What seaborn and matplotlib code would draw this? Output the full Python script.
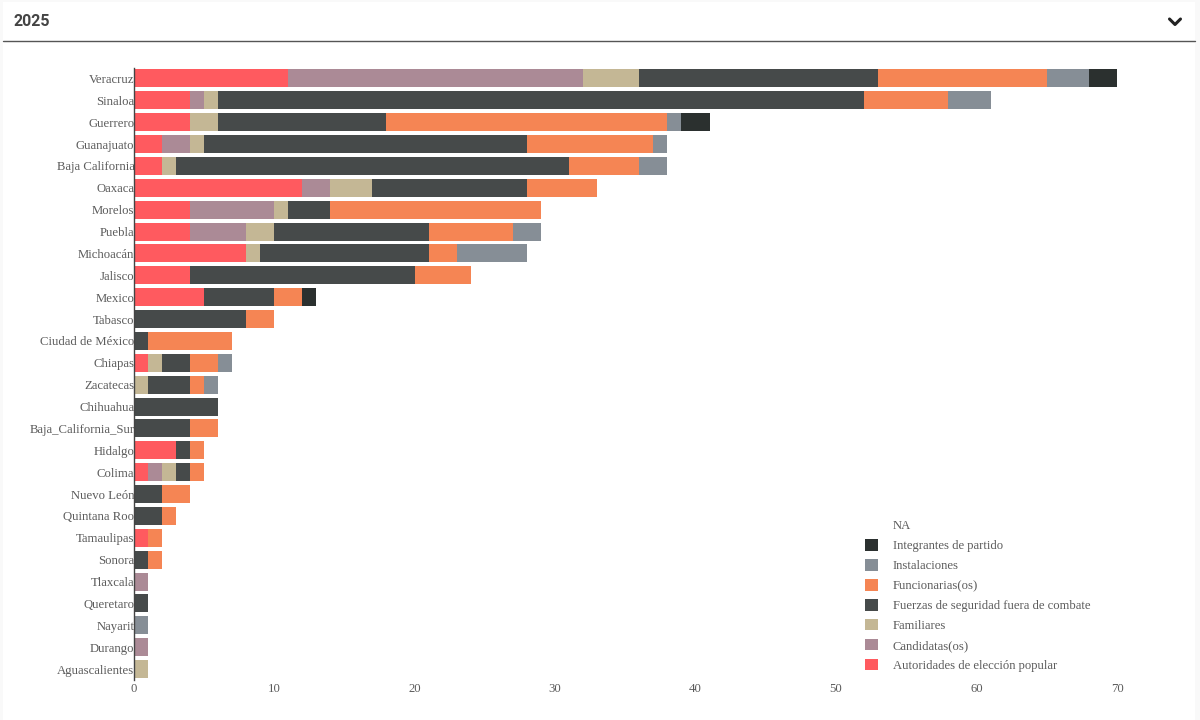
import numpy as np
import pandas as pd
import matplotlib.pyplot as plt
import seaborn as sns
from matplotlib.lines import Line2D
from matplotlib.patches import Rectangle

states = ["Veracruz", "Sinaloa", "Guerrero", "Guanajuato", "Baja California", "Oaxaca", "Morelos",
          "Puebla", "Michoacán", "Jalisco", "Mexico", "Tabasco", "Ciudad de México", "Chiapas",
          "Zacatecas", "Chihuahua", "Baja_California_Sur", "Hidalgo", "Colima", "Nuevo León",
          "Quintana Roo", "Tamaulipas", "Sonora", "Tlaxcala", "Queretaro", "Nayarit", "Durango",
          "Aguascalientes"]

autoridades = [11, 4, 4, 2, 2, 12, 4, 4, 8, 4, 5, 0, 0, 1, 0, 0, 0, 3, 1, 0, 0, 1, 0, 0, 0, 0, 0, 0]
candidatas = [21, 1, 0, 2, 0, 2, 6, 4, 0, 0, 0, 0, 0, 0, 0, 0, 0, 0, 1, 0, 0, 0, 0, 1, 0, 0, 1, 0]
familiares = [4, 1, 2, 1, 1, 3, 1, 2, 1, 0, 0, 0, 0, 1, 1, 0, 0, 0, 1, 0, 0, 0, 0, 0, 0, 0, 0, 1]
fuerzas = [17, 46, 12, 23, 28, 11, 3, 11, 12, 16, 5, 8, 1, 2, 3, 6, 4, 1, 1, 2, 2, 0, 1, 0, 1, 0, 0, 0]
funcionarias = [12, 6, 20, 9, 5, 5, 15, 6, 2, 4, 2, 2, 6, 2, 1, 0, 2, 1, 1, 2, 1, 1, 1, 0, 0, 0, 0, 0]
instalaciones = [3, 3, 1, 1, 2, 0, 0, 2, 5, 0, 0, 0, 0, 1, 1, 0, 0, 0, 0, 0, 0, 0, 0, 0, 0, 1, 0, 0]
integrantes = [2, 0, 2, 0, 0, 0, 0, 0, 0, 0, 1, 0, 0, 0, 0, 0, 0, 0, 0, 0, 0, 0, 0, 0, 0, 0, 0, 0]

series_names = ["Autoridades de elección popular", "Candidatas(os)", "Familiares",
                "Fuerzas de seguridad fuera de combate", "Funcionarias(os)", "Instalaciones",
                "Integrantes de partido"]
series_values = [autoridades, candidatas, familiares, fuerzas, funcionarias, instalaciones, integrantes]
colors = ["#ff5a5f", "#ab8a96", "#c4b795", "#464a4a", "#f58554", "#868e96", "#2b302f"]

W, H = 1200, 720
sns.set_style("white")
plt.rcParams['font.family'] = ['Liberation Serif', 'DejaVu Serif']
text_color = "#5c5c5c"

fig = plt.figure(figsize=(W / 100, H / 100), dpi=100, facecolor="#f9f9f9")
fig.add_artist(Rectangle((3 / W, 0), 1192 / W, 1 - 2 / H, transform=fig.transFigure,
                         facecolor="white", edgecolor="none", zorder=-1))
ax = fig.add_axes([133.5 / W, 1 - 680 / H, (1117 - 133.5) / W, (680 - 67.5) / H])
ax.patch.set_alpha(0)

# stacked bars: draw running totals, longest first
totals = np.cumsum(np.array(series_values), axis=0)
df = pd.DataFrame(totals.T, columns=series_names)
df["state"] = states
for i in range(len(series_names) - 1, -1, -1):
    sns.barplot(data=df, x=series_names[i], y="state", order=states, color=colors[i], saturation=1,
                width=0.82, errorbar=None, label=series_names[i], ax=ax, linewidth=0)

ax.set_xlim(0, 70)
ax.set_ylim(27.5, -0.5)
ax.set_xlabel("")
ax.set_ylabel("")
ax.set_xticks(range(0, 71, 10))
ax.tick_params(axis="both", length=0, labelsize=9.2, labelcolor=text_color)
ax.tick_params(axis="y", pad=-0.7)
ax.tick_params(axis="x", pad=2.5)
sns.despine(ax=ax, top=True, right=True, bottom=True)
ax.spines["left"].set_color("#444444")
ax.spines["left"].set_linewidth(1)

# legend, NA has no swatch
handles, labels = ax.get_legend_handles_labels()
na_handle = Line2D([], [], linestyle="none", label="NA")
ax.legend([na_handle] + handles, ["NA"] + labels, frameon=False, loc="lower left",
          bbox_to_anchor=(865 / W, 1 - 672 / H), bbox_transform=fig.transFigure,
          fontsize=9.1, labelcolor=text_color, handlelength=1.0, handleheight=1.0,
          handletextpad=1.2, labelspacing=0.55, borderpad=0, borderaxespad=0)

# page header
fig.text(14 / W, 1 - 21 / H, "2025", family=["Roboto", "DejaVu Sans"], fontsize=11.5, fontweight="bold",
         color="#444444", va="center", ha="left")
fig.add_artist(Line2D([3 / W, 1195 / W], [1 - 40.5 / H] * 2, color="#555555", lw=1))
fig.add_artist(Line2D([1169.5 / W, 1175 / W, 1180.5 / W], [1 - 19 / H, 1 - 24.5 / H, 1 - 19 / H],
                      color="#222222", lw=2.2))

fig.savefig("out.png", dpi=100, facecolor=fig.get_facecolor())
